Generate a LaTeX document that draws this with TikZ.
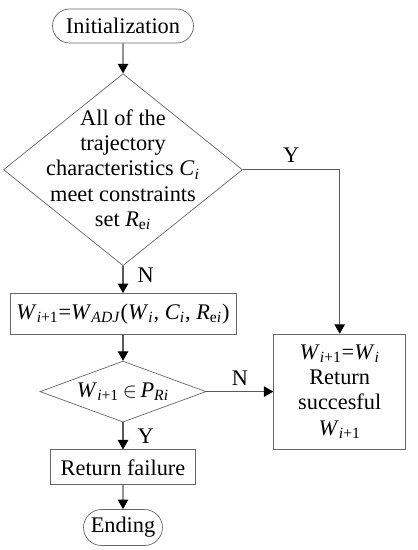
\documentclass[tikz,border=0pt]{standalone}
\usepackage{fontspec}
\setmainfont{Liberation Serif}
\usetikzlibrary{positioning,shapes.geometric,shapes.misc,arrows.meta}
\newcommand{\ivar}[2]{\textit{#1}\textsubscript{#2}}

\begin{document}
\begin{tikzpicture}[
  node distance=0.54cm,
  every node/.style={font=\fontsize{12.7}{14.4}\selectfont},
  terminal/.style={draw=black!60,rounded rectangle,minimum height=0.68cm,inner sep=2pt},
  process/.style={draw=black!60,minimum height=0.7cm,align=center,inner sep=2pt},
  decision/.style={draw=black!60,diamond,inner sep=0pt},
  arrow/.style={-{Triangle[length=0.19cm,width=0.21cm,black]},black!65,semithick},
  tag/.style={inner sep=1pt,text=black}
]
  \useasboundingbox (-2.46,0.52) rectangle (5.88,-10.48);
  \node[terminal,minimum width=2.96cm] (init) at (0,0) {Initialization};
  \node[decision,minimum width=4.78cm,minimum height=3.84cm,below=0.6cm of init] (check) {};
  \node[align=center] (checktext) at (check) {All of the\\trajectory\\
  characteristics \ivar{C}{\textit{i}}\\meet constraints\\set \ivar{R}{e\textit{i}}};
  \node[process,minimum width=4.52cm,minimum height=0.82cm,below=0.54cm of check] (adjust)
  {\ivar{W}{\textit{i}+1}=\ivar{W}{\textit{ADJ}}(\ivar{W}{\textit{i}}, \ivar{C}{\textit{i}}, \ivar{R}{e\textit{i}})};
  \node[decision,minimum width=3.32cm,minimum height=1.22cm,below=0.52cm of adjust] (inset) {};
  \node (insettext) at (inset) {\ivar{W}{\textit{i}+1}\,$\in$\,\ivar{P}{\textit{Ri}}};
  \node[process,minimum width=2.64cm,minimum height=2.3cm,right=1.34cm of inset] (success)
  {\ivar{W}{\textit{i}+1}=\ivar{W}{\textit{i}}\\Return\\succesful\\\ivar{W}{\textit{i}+1}};
  \node[process,minimum width=2.9cm,below=0.54cm of inset] (failure) {Return failure};
  \node[terminal,minimum width=1.72cm,minimum height=0.72cm,below=0.48cm of failure] (ending) {Ending};

  \draw[arrow] (init) -- (check);
  \draw[arrow] (check) -- node[tag,right=7pt,pos=0.35] {N} (adjust);
  \draw[arrow] (check.east) -| node[tag,above=3pt,pos=0.25] {Y} (success);
  \draw[arrow] (adjust) -- (inset);
  \draw[arrow] (inset) -- node[tag,above=2pt] {N} (success);
  \draw[arrow] (inset) -- node[tag,right=7pt] {Y} (failure);
  \draw[arrow] (failure) -- (ending);
\end{tikzpicture}
\end{document}
